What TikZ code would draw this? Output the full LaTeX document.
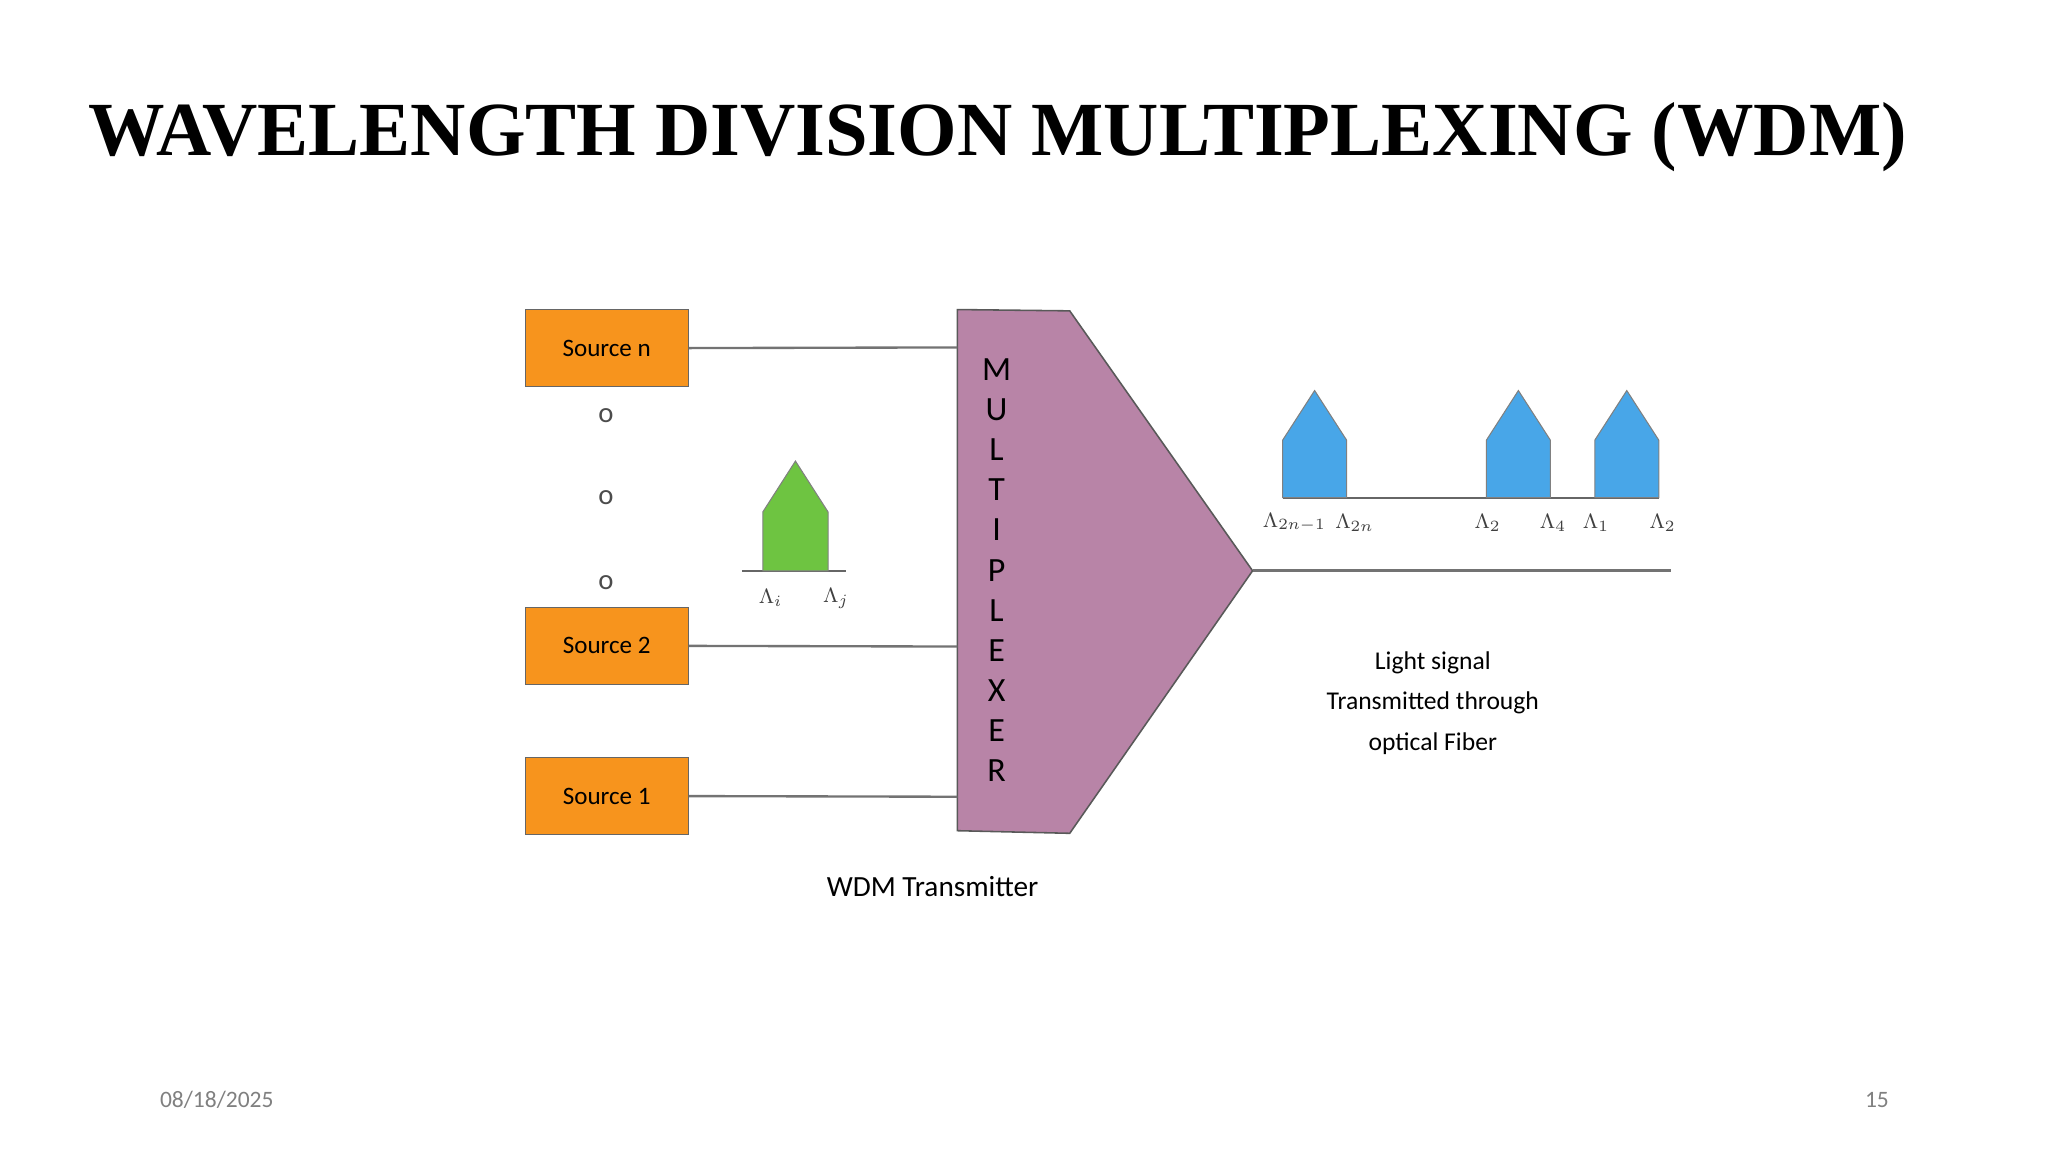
\documentclass[tikz,border=0pt]{standalone}
\usepackage{fontspec}
\setmainfont{Liberation Serif}
\newfontfamily\carl{Carlito}
\begin{document}
\begin{tikzpicture}[x=0.5pt,y=-0.5pt,
 src/.style={draw=black!60,fill={rgb,255:red,247;green,148;blue,29},minimum width=62.5pt,minimum height=29.5pt,inner sep=0pt,font=\carl\fontsize{9.6}{12}\selectfont},
 wire/.style={draw=black!55,line width=0.9pt},
 lam/.style={font=\carl\fontsize{8.5}{10}\selectfont,text=black!75},
 dot/.style={font=\carl\fontsize{11}{12}\selectfont,text=black!70}]
\useasboundingbox (0,0) rectangle (1568,882);
\node[font=\bfseries\fontsize{29.3}{35}\selectfont] (title) at (764,105) {WAVELENGTH DIVISION MULTIPLEXING (WDM)};
\node[src] (sn) at (464.5,266.5) {Source n};
\node[src] (s2) at (464.5,494.5) {Source 2};
\node[src] (s1) at (464.5,609.5) {Source 1};
\node[dot] (d1) at (464,318) {o};
\node[dot] (d2) at (464,381) {o};
\node[dot] (d3) at (464,446) {o};
\draw[fill={rgb,255:red,184;green,132;blue,167}, draw=black!65, line width=0.6pt]
 (733,237) -- (819,238) -- (959,437) -- (819,638) -- (733,636) -- cycle;
\coordinate (mtip) at (959,437);
\coordinate (m1) at (733,266); \coordinate (m2) at (733,495); \coordinate (m3) at (733,610);
\draw[wire] (sn.east) -- (m1);
\draw[wire] (s2.east) -- (m2);
\draw[wire] (s1.east) -- (m3);
\foreach \l [count=\i] in {M,U,L,T,I,P,L,E,X,E,R}
  \node[font=\carl\fontsize{13}{14}\selectfont] (mx\i) at (763,{283+(\i-1)*30.7}) {\l};
\draw[black!60,line width=0.7pt] (568,437) -- (648,437);
\draw[fill={rgb,255:red,110;green,196;blue,65}, draw=black!50] (584,437) -- (584,392) -- (609,353) -- (634,392) -- (634,437) -- cycle;
\node[lam] (li) at (590,458) {$\Lambda_i$};
\node[lam] (lj) at (640,458) {$\Lambda_j$};
\coordinate (fend) at (1279,437);
\draw[black!55,line width=1.2pt] (mtip) -- (fend);
\draw[black!60,line width=0.7pt] (982,381) -- (1270,381);
\foreach \a in {982,1138,1221}
  \draw[fill={rgb,255:red,72;green,166;blue,232}, draw=black!50] (\a,381) -- (\a,337) -- (\a+24.5,299) -- (\a+49,337) -- (\a+49,381) -- cycle;
\node[lam] (l1) at (991,400) {$\Lambda_{2n-1}$};
\node[lam] (l2) at (1037,400) {$\Lambda_{2n}$};
\node[lam] (l3) at (1139,400) {$\Lambda_2$};
\node[lam] (l4) at (1189,400) {$\Lambda_4$};
\node[lam] (l5) at (1222,400) {$\Lambda_1$};
\node[lam] (l6) at (1273,400) {$\Lambda_2$};
\node[font=\carl\fontsize{9.8}{15.5}\selectfont,align=center] (txt) at (1097,538) {Light signal\\Transmitted through\\optical Fiber};
\node[font=\carl\fontsize{11.2}{14}\selectfont] (wt) at (714,679) {WDM Transmitter};
\node[font=\carl\fontsize{9}{10}\selectfont,text=black!50] (date) at (166,842) {08/18/2025};
\node[font=\carl\fontsize{9}{10}\selectfont,text=black!50] (pg) at (1437,842) {15};
\end{tikzpicture}
\end{document}
